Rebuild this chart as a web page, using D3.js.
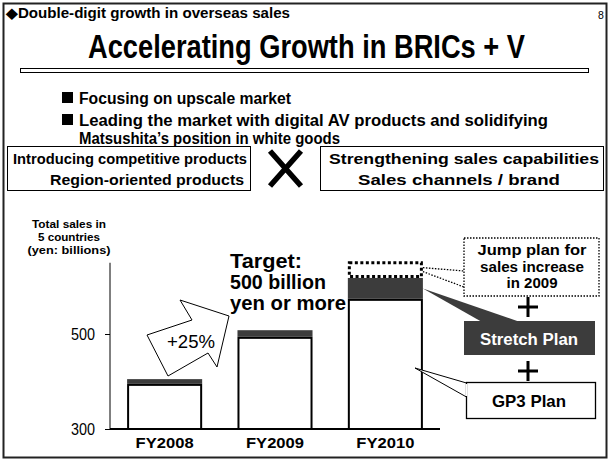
<!DOCTYPE html>
<html><head><meta charset="utf-8">
<script src="https://cdn.jsdelivr.net/npm/d3@7"></script>
<style>body{margin:0;background:#fff}svg{display:block;font-family:"Liberation Sans",Arial,sans-serif}</style>
</head><body><svg id="c" width="610" height="461"></svg>
<script>
const categories = ["FY2008", "FY2009", "FY2010"];
const gp3Values = [395, 494, 574];
const stretchValues = [10, 14, 44];
const jumpValues = [0, 0, 35];
const yTicks = [300, 500];
const growthLabel = "+25%";

const svg = d3.select("#c");
const ink = "#000", dark = "#3c3c3c";

function txt(x, y, s, size, o = {}) {
  const t = svg.append("text").attr("x", x).attr("y", y).attr("font-size", size)
    .attr("font-weight", o.normal ? "normal" : "bold").attr("fill", o.fill || ink).text(s);
  if (o.anchor) t.attr("text-anchor", o.anchor);
  if (o.len) t.attr("textLength", o.len).attr("lengthAdjust", "spacingAndGlyphs");
  return t;
}

// frame
svg.append("rect").attr("x",3.5).attr("y",3.5).attr("width",603).attr("height",454)
  .attr("fill","none").attr("stroke","#222").attr("stroke-width",2);

txt(6, 18, "◆Double-digit growth in overseas sales", 14, {len: 284});
txt(598, 19, "8", 10.5, {normal: true});
svg.append("text").attr("transform","translate(306.5,58) scale(1,1.17)")
  .attr("text-anchor","middle").attr("font-size",28).attr("font-weight","bold").attr("fill",ink)
  .attr("textLength",437).attr("lengthAdjust","spacingAndGlyphs").text("Accelerating Growth in BRICs + V");
svg.append("rect").attr("x",20.5).attr("y",68.5).attr("width",568).attr("height",4).attr("fill","#fff").attr("stroke",ink).attr("stroke-width",1);

// bullets
[[92],[114]].forEach(b=>svg.append("rect").attr("x",62).attr("y",b[0]).attr("width",11).attr("height",11).attr("fill",ink));
txt(79, 103.5, "Focusing on upscale market", 16, {len: 212});
txt(79, 125.5, "Leading the market with digital AV products and solidifying", 16, {len: 469});
txt(79, 144, "Matsushita’s position in white goods", 16, {len: 261});

// boxes
svg.append("rect").attr("x",7.5).attr("y",146.5).attr("width",243).attr("height",44).attr("fill","#fff").attr("stroke",ink);
txt(13, 164, "Introducing competitive products", 15, {len: 234});
txt(50, 185, "Region-oriented products", 15, {len: 194});
svg.append("rect").attr("x",320.5).attr("y",146.5).attr("width",283).attr("height",44).attr("fill","#fff").attr("stroke",ink);
txt(329, 164, "Strengthening sales capabilities", 15, {len: 270});
txt(358, 185, "Sales channels / brand", 15, {len: 202});
svg.append("path").attr("d","M270,151 L301,186 M301,151 L270,186").attr("stroke",ink).attr("stroke-width",5.5);

// chart
const x = d3.scaleBand().domain(categories).range([110,440]).paddingInner(0.32).paddingOuter(0.155);
const y = d3.scaleLinear().domain([300,500]).range([429,334]);

const yAxis = svg.append("g").attr("transform","translate(110,0)")
  .call(d3.axisLeft(y).tickValues(yTicks).tickSize(5).tickPadding(10));
yAxis.select(".domain").remove();
yAxis.selectAll("text").attr("font-size",16).attr("font-family","Liberation Sans, Arial, sans-serif").attr("fill",ink).attr("dy","0.35em")
  .attr("textLength",24).attr("lengthAdjust","spacingAndGlyphs");
yAxis.selectAll("line").attr("stroke",ink);
svg.append("line").attr("x1",110).attr("x2",110).attr("y1",y(650)).attr("y2",y(300)).attr("stroke",ink).attr("stroke-width",1);

const data = categories.map((c,i)=>({c, g:gp3Values[i], s:stretchValues[i], j:jumpValues[i]}));
svg.selectAll("rect.gp3").data(data).join("rect").attr("class","gp3")
  .attr("x",d=>x(d.c)+1).attr("width",x.bandwidth()-2)
  .attr("y",d=>y(d.g)+1).attr("height",d=>y(300)-y(d.g)-1)
  .attr("fill","#fff").attr("stroke",ink).attr("stroke-width",2);
svg.selectAll("rect.str").data(data).join("rect").attr("class","str")
  .attr("x",d=>x(d.c)).attr("width",x.bandwidth())
  .attr("y",d=>y(d.g+d.s)).attr("height",d=>y(d.g)-y(d.g+d.s))
  .attr("fill",dark);
svg.selectAll("rect.jmp").data(data.filter(d=>d.j>0)).join("rect").attr("class","jmp")
  .attr("x",d=>x(d.c)+1.5).attr("width",x.bandwidth()-3)
  .attr("y",d=>y(d.g+d.s+d.j)+1.5).attr("height",d=>y(d.g+d.s)-y(d.g+d.s+d.j)-3)
  .attr("fill","none").attr("stroke",ink).attr("stroke-width",3).attr("stroke-dasharray","3,2.5");

svg.append("line").attr("x1",110).attr("x2",440).attr("y1",429).attr("y2",429).attr("stroke",ink).attr("stroke-width",2);
svg.selectAll("text.xl").data(categories).join("text").attr("class","xl")
  .attr("x",d=>x(d)+x.bandwidth()/2).attr("y",448).attr("text-anchor","middle")
  .attr("font-size",15.5).attr("font-weight","bold")
  .attr("textLength",58).attr("lengthAdjust","spacingAndGlyphs").text(d=>d);

// y title
[["Total sales in",74],["5 countries",62],["(yen: billions)",83]].forEach((t,i)=>
  txt(69, 228+i*13, t[0], 11.5, {anchor:"middle", len:t[1]}));

// target text
txt(230, 268, "Target:", 19.5, {len: 72});
txt(230, 289, "500 billion", 19.5, {len: 96});
txt(230, 309.5, "yen or more", 19.5, {len: 116});

// growth arrow
svg.append("path").attr("d","M147,335 L192,320 L180,300 L229,316 L217,367 L208,353 L168,376 Z")
  .attr("fill","#fff").attr("stroke",ink).attr("stroke-width",1);
txt(191, 348, growthLabel, 18, {normal:true, anchor:"middle", len:48});

// jump plan callout
const jx0 = x("FY2010")+x.bandwidth();
const jy = y(gp3Values[2]+stretchValues[2]+jumpValues[2]/2);
svg.append("path").attr("d",`M${jx0},${jy-2} L464,271 M${jx0},${jy+2} L464,287`).attr("stroke",ink).attr("stroke-width",1.3).attr("stroke-dasharray","1.5,1.5");
svg.append("rect").attr("x",464).attr("y",238).attr("width",135).attr("height",58).attr("fill","none").attr("stroke",ink).attr("stroke-width",1.3).attr("stroke-dasharray","1.5,1.5");
txt(532, 255, "Jump plan for", 14, {anchor:"middle", len:109});
txt(532, 272, "sales increase", 14, {anchor:"middle", len:104});
txt(532, 288, "in 2009", 14, {anchor:"middle", len:51});

// plus signs
[307,371].forEach(cy=>svg.append("path").attr("d",`M${528-10},${cy} L${528+10},${cy} M528,${cy-10} L528,${cy+10}`).attr("stroke",ink).attr("stroke-width",3));

// stretch plan
const sy = y(gp3Values[2]+stretchValues[2]/2);
svg.append("path").attr("d",`M${jx0},${sy} L482,322 L520,322 Z`).attr("fill",dark);
svg.append("rect").attr("x",464).attr("y",321).attr("width",131).attr("height",34).attr("fill",dark);
txt(529, 345, "Stretch Plan", 16, {anchor:"middle", fill:"#fff", len:98});

// gp3 plan
svg.append("path").attr("d","M415,368 L466.5,383 L466.5,397 Z").attr("fill","#fff").attr("stroke",ink).attr("stroke-width",1);
svg.append("rect").attr("x",466.5).attr("y",382.5).attr("width",129).attr("height",36).attr("fill","#fff").attr("stroke",ink).attr("stroke-width",1.3);
svg.append("line").attr("x1",466.5).attr("x2",466.5).attr("y1",384).attr("y2",396).attr("stroke","#fff").attr("stroke-width",1.4);
txt(529, 407, "GP3 Plan", 16.5, {anchor:"middle", len:74});
</script></body></html>
